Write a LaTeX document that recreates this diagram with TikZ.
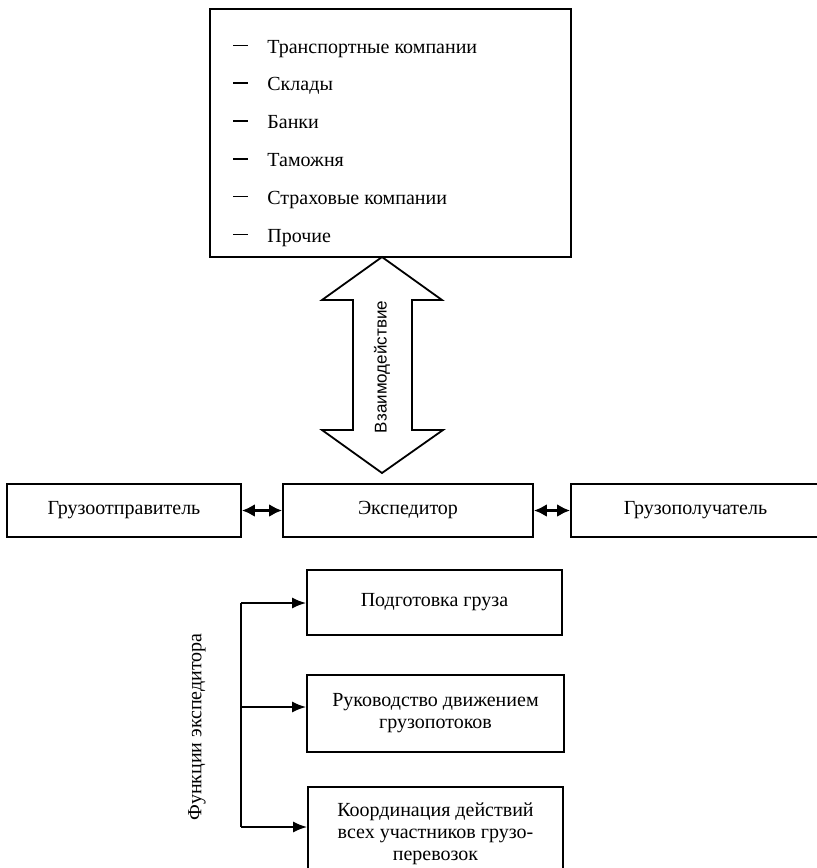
\documentclass[tikz,border=0pt]{standalone}
\usepackage{fontspec}
\setmainfont{Liberation Serif}
\setsansfont{Liberation Sans}
\usetikzlibrary{arrows.meta}

\newcommand{\itemdash}{\rule[3.4pt]{7.5pt}{0.8pt}\hspace{9.5pt}}

\begin{document}
\begin{tikzpicture}[x=0.5pt, y=-0.5pt,
    box/.style={draw, line width=0.9pt, inner sep=0pt, align=center,
        font=\fontsize{10}{11}\selectfont},
    entry/.style={anchor=base west, inner sep=0pt, font=\fontsize{10}{11}\selectfont},
    link/.style={line width=1.4pt, {Latex[length=6.5pt,width=6.5pt]}-{Latex[length=6.5pt,width=6.5pt]}},
    feed/.style={line width=0.9pt, -{Latex[length=7pt,width=5.5pt]}}]
    \useasboundingbox (0,0) rectangle (817,868);
    \clip (0,0) rectangle (817,868);

    % partners
    \node[box, minimum width=180.5pt, minimum height=124pt] (partners) at (390.5,133) {};
    \foreach \txt [count=\i] in {Транспортные компании, Склады, Банки,
        Таможня, Страховые компании, Прочие}
        \node[entry] (p\i) at (233,15.2+37.8*\i) {\itemdash\txt};

    % interaction
    \draw[line width=0.9pt] (382,257) -- (442,300) -- (412,300) -- (412,430)
        -- (443,430) -- (382,473) -- (322,430) -- (353,430) -- (353,300)
        -- (322,300) -- cycle;
    \node[rotate=90, font=\sffamily\fontsize{8.5}{10}\selectfont] (interact) at (382,367) {Взаимодействие};

    % main row
    \node[box, minimum width=117pt, minimum height=26.5pt] (shipper) at (124,510.5) {Грузоотправитель};
    \node[box, minimum width=125pt, minimum height=26.5pt] (forwarder) at (408,510.5) {Экспедитор};
    \node[box, minimum width=124.5pt, minimum height=26.5pt] (consignee) at (695.5,510.5) {Грузополучатель};
    \draw[link] (shipper) -- (forwarder);
    \draw[link] (forwarder) -- (consignee);

    % functions
    \node[box, minimum width=127.5pt, minimum height=32.5pt] (prep) at (434.5,602.5) {Подготовка груза};
    \node[box, minimum width=128.5pt, minimum height=38.5pt] (flow) at (435.5,713.5)
        {Руководство движением\\грузопотоков};
    \node[box, minimum width=127.5pt, minimum height=47pt] (coord) at (435.5,834)
        {Координация действий\\всех участников грузо-\\перевозок};
    \node[rotate=90, font=\fontsize{10}{11}\selectfont] (func) at (197,727) {Функции экспедитора};

    \coordinate (fTop) at (241,603);
    \coordinate (fMid) at (241,707);
    \coordinate (fBot) at (241,827);
    \draw[line width=0.9pt] (fTop) -- (fBot);
    \draw[feed] (fTop) -- (fTop -| prep.west);
    \draw[feed] (fMid) -- (fMid -| flow.west);
    \draw[feed] (fBot) -- (fBot -| coord.west);
\end{tikzpicture}
\end{document}
